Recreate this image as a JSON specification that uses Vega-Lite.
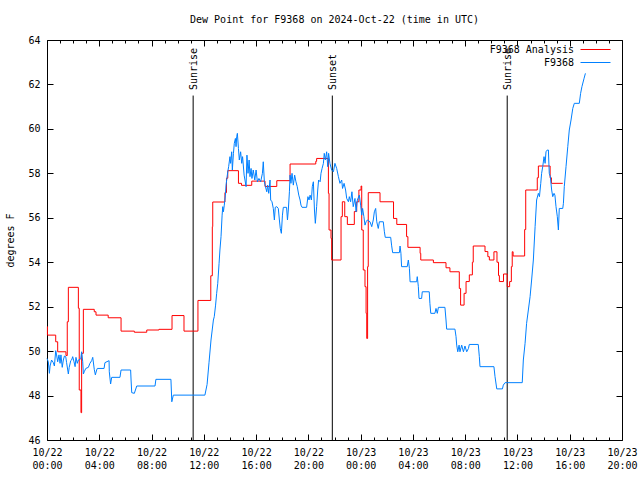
{
"$schema": "https://vega.github.io/schema/vega-lite/v6.json",
"width": 575, "height": 400, "autosize": "none",
"padding": {"left": 47, "top": 40, "right": 18, "bottom": 40},
"background": "white",
"config": {
  "font": "DejaVu Sans Mono",
  "view": {"stroke": "black", "strokeWidth": 1},
  "axis": {"grid": false, "domain": false, "labelFont": "DejaVu Sans Mono", "labelFontSize": 10, "labelColor": "black", "tickColor": "black", "tickWidth": 1, "titleFont": "DejaVu Sans Mono", "titleFontSize": 10, "titleFontWeight": "normal", "titleColor": "black"},
  "legend": {"title": null, "orient": "none", "symbolType": "M-3,0H3", "symbolSize": 100, "symbolStrokeWidth": 1, "labelAlign": "right", "labelOffset": -27, "labelFontSize": 10, "labelFont": "DejaVu Sans Mono", "labelColor": "black", "rowPadding": 3, "padding": 0}
},
"title": {"text": "Dew Point for F9368 on 2024-Oct-22 (time in UTC)", "font": "DejaVu Sans Mono", "fontSize": 10, "fontWeight": "normal", "color": "black", "anchor": "middle", "offset": 10},
"datasets": {
  "analysis": [
    {"t": "2024-10-22T00:00Z", "v": 51.1}, {"t": "2024-10-22T00:02Z", "v": 50.72}, {"t": "2024-10-22T00:40Z", "v": 50.42}, {"t": "2024-10-22T00:49Z", "v": 49.97},
    {"t": "2024-10-22T01:27Z", "v": 49.8}, {"t": "2024-10-22T01:33Z", "v": 51.32}, {"t": "2024-10-22T01:38Z", "v": 52.87}, {"t": "2024-10-22T02:24Z", "v": 51.93},
    {"t": "2024-10-22T02:28Z", "v": 48.25}, {"t": "2024-10-22T02:36Z", "v": 47.23}, {"t": "2024-10-22T02:39Z", "v": 49.9}, {"t": "2024-10-22T02:47Z", "v": 51.88},
    {"t": "2024-10-22T03:37Z", "v": 51.77}, {"t": "2024-10-22T03:45Z", "v": 51.62}, {"t": "2024-10-22T04:41Z", "v": 51.5}, {"t": "2024-10-22T05:40Z", "v": 50.9},
    {"t": "2024-10-22T06:41Z", "v": 50.85}, {"t": "2024-10-22T07:38Z", "v": 50.95}, {"t": "2024-10-22T08:34Z", "v": 50.98}, {"t": "2024-10-22T09:34Z", "v": 51.6},
    {"t": "2024-10-22T10:29Z", "v": 50.9}, {"t": "2024-10-22T11:33Z", "v": 52.28}, {"t": "2024-10-22T12:32Z", "v": 53.39}, {"t": "2024-10-22T12:39Z", "v": 55.6},
    {"t": "2024-10-22T12:41Z", "v": 56.71}, {"t": "2024-10-22T13:37Z", "v": 57.13}, {"t": "2024-10-22T13:44Z", "v": 57.78}, {"t": "2024-10-22T13:50Z", "v": 58.12},
    {"t": "2024-10-22T14:39Z", "v": 57.55}, {"t": "2024-10-22T14:53Z", "v": 57.46}, {"t": "2024-10-22T15:40Z", "v": 57.65}, {"t": "2024-10-22T16:41Z", "v": 57.41},
    {"t": "2024-10-22T17:35Z", "v": 57.67}, {"t": "2024-10-22T18:36Z", "v": 58.42}, {"t": "2024-10-22T20:34Z", "v": 58.54}, {"t": "2024-10-22T20:38Z", "v": 58.67},
    {"t": "2024-10-22T21:32Z", "v": 57.1}, {"t": "2024-10-22T21:35Z", "v": 55.45}, {"t": "2024-10-22T21:44Z", "v": 55.07}, {"t": "2024-10-22T21:47Z", "v": 54.1},
    {"t": "2024-10-22T22:30Z", "v": 56.05}, {"t": "2024-10-22T22:36Z", "v": 56.72}, {"t": "2024-10-22T22:47Z", "v": 56.05}, {"t": "2024-10-22T22:59Z", "v": 55.7},
    {"t": "2024-10-22T23:31Z", "v": 56.28}, {"t": "2024-10-22T23:42Z", "v": 56.72}, {"t": "2024-10-22T23:52Z", "v": 57.25}, {"t": "2024-10-23T00:02Z", "v": 57.43},
    {"t": "2024-10-23T00:05Z", "v": 55.45}, {"t": "2024-10-23T00:12Z", "v": 53.65}, {"t": "2024-10-23T00:20Z", "v": 52.9}, {"t": "2024-10-23T00:25Z", "v": 51.7},
    {"t": "2024-10-23T00:28Z", "v": 50.57}, {"t": "2024-10-23T00:32Z", "v": 53.8}, {"t": "2024-10-23T00:35Z", "v": 57.13}, {"t": "2024-10-23T01:29Z", "v": 56.72},
    {"t": "2024-10-23T02:31Z", "v": 55.97}, {"t": "2024-10-23T02:46Z", "v": 55.7}, {"t": "2024-10-23T03:31Z", "v": 55.15}, {"t": "2024-10-23T03:37Z", "v": 54.67},
    {"t": "2024-10-23T04:33Z", "v": 54.4}, {"t": "2024-10-23T04:36Z", "v": 54.1}, {"t": "2024-10-23T05:34Z", "v": 53.98}, {"t": "2024-10-23T06:32Z", "v": 53.75},
    {"t": "2024-10-23T06:50Z", "v": 53.57}, {"t": "2024-10-23T07:33Z", "v": 52.82}, {"t": "2024-10-23T07:39Z", "v": 52.07}, {"t": "2024-10-23T07:55Z", "v": 52.6},
    {"t": "2024-10-23T08:04Z", "v": 53.13}, {"t": "2024-10-23T08:19Z", "v": 53.43}, {"t": "2024-10-23T08:33Z", "v": 54.0}, {"t": "2024-10-23T08:37Z", "v": 54.73},
    {"t": "2024-10-23T09:31Z", "v": 54.48}, {"t": "2024-10-23T09:44Z", "v": 54.25}, {"t": "2024-10-23T09:51Z", "v": 54.1}, {"t": "2024-10-23T10:12Z", "v": 54.47},
    {"t": "2024-10-23T10:26Z", "v": 54.0}, {"t": "2024-10-23T10:33Z", "v": 53.4}, {"t": "2024-10-23T10:37Z", "v": 53.13}, {"t": "2024-10-23T10:56Z", "v": 53.47},
    {"t": "2024-10-23T11:13Z", "v": 52.9}, {"t": "2024-10-23T11:24Z", "v": 53.13}, {"t": "2024-10-23T11:32Z", "v": 53.8}, {"t": "2024-10-23T11:36Z", "v": 54.47},
    {"t": "2024-10-23T11:40Z", "v": 54.28}, {"t": "2024-10-23T12:33Z", "v": 55.47}, {"t": "2024-10-23T12:38Z", "v": 57.25}, {"t": "2024-10-23T13:31Z", "v": 57.8},
    {"t": "2024-10-23T13:36Z", "v": 58.33}, {"t": "2024-10-23T14:30Z", "v": 57.8}, {"t": "2024-10-23T14:36Z", "v": 57.55}, {"t": "2024-10-23T15:28Z", "v": 57.55}
  ],
  "obs": [
    {"t": "2024-10-22T00:00Z", "v": 49.67}, {"t": "2024-10-22T00:06Z", "v": 49.52}, {"t": "2024-10-22T00:11Z", "v": 49.0}, {"t": "2024-10-22T00:14Z", "v": 49.33},
    {"t": "2024-10-22T00:21Z", "v": 49.6}, {"t": "2024-10-22T00:29Z", "v": 49.48}, {"t": "2024-10-22T00:34Z", "v": 49.33}, {"t": "2024-10-22T00:40Z", "v": 50.02},
    {"t": "2024-10-22T00:44Z", "v": 49.83}, {"t": "2024-10-22T00:49Z", "v": 49.52}, {"t": "2024-10-22T00:55Z", "v": 49.83}, {"t": "2024-10-22T01:00Z", "v": 49.45},
    {"t": "2024-10-22T01:04Z", "v": 49.83}, {"t": "2024-10-22T01:10Z", "v": 49.27}, {"t": "2024-10-22T01:15Z", "v": 49.6}, {"t": "2024-10-22T01:20Z", "v": 49.78},
    {"t": "2024-10-22T01:26Z", "v": 49.75}, {"t": "2024-10-22T01:30Z", "v": 49.48}, {"t": "2024-10-22T01:38Z", "v": 48.97}, {"t": "2024-10-22T01:42Z", "v": 49.27},
    {"t": "2024-10-22T01:49Z", "v": 49.57}, {"t": "2024-10-22T01:53Z", "v": 49.6}, {"t": "2024-10-22T01:58Z", "v": 49.75}, {"t": "2024-10-22T02:04Z", "v": 49.52},
    {"t": "2024-10-22T02:09Z", "v": 49.3}, {"t": "2024-10-22T02:13Z", "v": 49.72}, {"t": "2024-10-22T02:19Z", "v": 49.45}, {"t": "2024-10-22T02:24Z", "v": 49.6},
    {"t": "2024-10-22T02:35Z", "v": 49.65}, {"t": "2024-10-22T02:39Z", "v": 49.97}, {"t": "2024-10-22T02:44Z", "v": 49.52}, {"t": "2024-10-22T02:47Z", "v": 48.97},
    {"t": "2024-10-22T02:51Z", "v": 49.07}, {"t": "2024-10-22T02:58Z", "v": 49.22}, {"t": "2024-10-22T03:10Z", "v": 49.27}, {"t": "2024-10-22T03:17Z", "v": 49.45},
    {"t": "2024-10-22T03:25Z", "v": 49.57}, {"t": "2024-10-22T03:30Z", "v": 49.72}, {"t": "2024-10-22T03:37Z", "v": 49.18}, {"t": "2024-10-22T03:42Z", "v": 48.93},
    {"t": "2024-10-22T03:48Z", "v": 49.15}, {"t": "2024-10-22T03:51Z", "v": 49.22}, {"t": "2024-10-22T04:22Z", "v": 49.22}, {"t": "2024-10-22T04:26Z", "v": 49.48},
    {"t": "2024-10-22T04:45Z", "v": 49.57}, {"t": "2024-10-22T04:46Z", "v": 49.07}, {"t": "2024-10-22T04:52Z", "v": 48.52}, {"t": "2024-10-22T04:57Z", "v": 48.82},
    {"t": "2024-10-22T05:35Z", "v": 48.82}, {"t": "2024-10-22T05:40Z", "v": 49.15}, {"t": "2024-10-22T06:24Z", "v": 49.15}, {"t": "2024-10-22T06:26Z", "v": 48.7},
    {"t": "2024-10-22T06:29Z", "v": 48.13}, {"t": "2024-10-22T06:41Z", "v": 48.1}, {"t": "2024-10-22T06:52Z", "v": 48.43}, {"t": "2024-10-22T08:16Z", "v": 48.43},
    {"t": "2024-10-22T08:20Z", "v": 48.73}, {"t": "2024-10-22T09:29Z", "v": 48.73}, {"t": "2024-10-22T09:33Z", "v": 47.72}, {"t": "2024-10-22T09:40Z", "v": 48.02},
    {"t": "2024-10-22T12:05Z", "v": 48.02}, {"t": "2024-10-22T12:15Z", "v": 48.5}, {"t": "2024-10-22T12:24Z", "v": 49.5}, {"t": "2024-10-22T12:33Z", "v": 50.5},
    {"t": "2024-10-22T12:44Z", "v": 51.4}, {"t": "2024-10-22T12:48Z", "v": 51.55}, {"t": "2024-10-22T12:54Z", "v": 52.07}, {"t": "2024-10-22T12:59Z", "v": 52.6},
    {"t": "2024-10-22T13:04Z", "v": 53.05}, {"t": "2024-10-22T13:10Z", "v": 53.95}, {"t": "2024-10-22T13:14Z", "v": 54.55}, {"t": "2024-10-22T13:19Z", "v": 55.15},
    {"t": "2024-10-22T13:24Z", "v": 56.12}, {"t": "2024-10-22T13:27Z", "v": 56.5}, {"t": "2024-10-22T13:30Z", "v": 56.27}, {"t": "2024-10-22T13:34Z", "v": 56.57},
    {"t": "2024-10-22T13:39Z", "v": 57.02}, {"t": "2024-10-22T13:42Z", "v": 57.47}, {"t": "2024-10-22T13:46Z", "v": 57.77}, {"t": "2024-10-22T13:50Z", "v": 58.07},
    {"t": "2024-10-22T13:54Z", "v": 58.3}, {"t": "2024-10-22T14:00Z", "v": 58.75}, {"t": "2024-10-22T14:03Z", "v": 58.45}, {"t": "2024-10-22T14:08Z", "v": 58.97},
    {"t": "2024-10-22T14:11Z", "v": 58.15}, {"t": "2024-10-22T14:16Z", "v": 58.9}, {"t": "2024-10-22T14:20Z", "v": 59.35}, {"t": "2024-10-22T14:25Z", "v": 59.57},
    {"t": "2024-10-22T14:28Z", "v": 59.2}, {"t": "2024-10-22T14:31Z", "v": 59.65}, {"t": "2024-10-22T14:34Z", "v": 59.8}, {"t": "2024-10-22T14:39Z", "v": 59.12},
    {"t": "2024-10-22T14:43Z", "v": 58.6}, {"t": "2024-10-22T14:49Z", "v": 58.97}, {"t": "2024-10-22T14:54Z", "v": 58.45}, {"t": "2024-10-22T14:58Z", "v": 58.75},
    {"t": "2024-10-22T15:05Z", "v": 57.92}, {"t": "2024-10-22T15:09Z", "v": 57.7}, {"t": "2024-10-22T15:14Z", "v": 57.4}, {"t": "2024-10-22T15:18Z", "v": 58.82},
    {"t": "2024-10-22T15:23Z", "v": 58.0}, {"t": "2024-10-22T15:28Z", "v": 58.6}, {"t": "2024-10-22T15:32Z", "v": 57.85}, {"t": "2024-10-22T15:37Z", "v": 58.22},
    {"t": "2024-10-22T15:41Z", "v": 57.77}, {"t": "2024-10-22T15:47Z", "v": 58.15}, {"t": "2024-10-22T15:54Z", "v": 57.7}, {"t": "2024-10-22T16:00Z", "v": 58.15},
    {"t": "2024-10-22T16:06Z", "v": 57.62}, {"t": "2024-10-22T16:13Z", "v": 57.77}, {"t": "2024-10-22T16:21Z", "v": 57.62}, {"t": "2024-10-22T16:29Z", "v": 58.0},
    {"t": "2024-10-22T16:33Z", "v": 58.52}, {"t": "2024-10-22T16:38Z", "v": 57.62}, {"t": "2024-10-22T16:43Z", "v": 57.4}, {"t": "2024-10-22T16:49Z", "v": 57.17},
    {"t": "2024-10-22T16:53Z", "v": 57.47}, {"t": "2024-10-22T16:58Z", "v": 57.1}, {"t": "2024-10-22T17:04Z", "v": 57.7}, {"t": "2024-10-22T17:07Z", "v": 56.8},
    {"t": "2024-10-22T17:13Z", "v": 56.72}, {"t": "2024-10-22T17:19Z", "v": 56.42}, {"t": "2024-10-22T17:24Z", "v": 55.9}, {"t": "2024-10-22T17:28Z", "v": 56.47},
    {"t": "2024-10-22T17:35Z", "v": 56.5}, {"t": "2024-10-22T17:42Z", "v": 56.42}, {"t": "2024-10-22T17:47Z", "v": 55.9}, {"t": "2024-10-22T17:51Z", "v": 55.52},
    {"t": "2024-10-22T17:56Z", "v": 55.3}, {"t": "2024-10-22T18:01Z", "v": 56.12}, {"t": "2024-10-22T18:05Z", "v": 56.47}, {"t": "2024-10-22T18:20Z", "v": 56.47},
    {"t": "2024-10-22T18:24Z", "v": 55.9}, {"t": "2024-10-22T18:28Z", "v": 56.35}, {"t": "2024-10-22T18:33Z", "v": 57.17}, {"t": "2024-10-22T18:36Z", "v": 57.92},
    {"t": "2024-10-22T18:40Z", "v": 57.55}, {"t": "2024-10-22T18:45Z", "v": 58.0}, {"t": "2024-10-22T18:51Z", "v": 57.47}, {"t": "2024-10-22T18:57Z", "v": 57.92},
    {"t": "2024-10-22T19:03Z", "v": 57.62}, {"t": "2024-10-22T19:09Z", "v": 57.4}, {"t": "2024-10-22T19:16Z", "v": 57.02}, {"t": "2024-10-22T19:22Z", "v": 56.8},
    {"t": "2024-10-22T19:26Z", "v": 56.57}, {"t": "2024-10-22T19:31Z", "v": 56.47}, {"t": "2024-10-22T19:52Z", "v": 56.47}, {"t": "2024-10-22T19:58Z", "v": 56.95},
    {"t": "2024-10-22T20:03Z", "v": 56.8}, {"t": "2024-10-22T20:08Z", "v": 57.02}, {"t": "2024-10-22T20:14Z", "v": 56.8}, {"t": "2024-10-22T20:18Z", "v": 57.4},
    {"t": "2024-10-22T20:23Z", "v": 57.62}, {"t": "2024-10-22T20:28Z", "v": 56.35}, {"t": "2024-10-22T20:32Z", "v": 55.75}, {"t": "2024-10-22T20:38Z", "v": 56.5},
    {"t": "2024-10-22T20:43Z", "v": 57.25}, {"t": "2024-10-22T20:47Z", "v": 57.7}, {"t": "2024-10-22T20:54Z", "v": 57.62}, {"t": "2024-10-22T20:58Z", "v": 58.0},
    {"t": "2024-10-22T21:03Z", "v": 58.22}, {"t": "2024-10-22T21:09Z", "v": 58.45}, {"t": "2024-10-22T21:13Z", "v": 58.9}, {"t": "2024-10-22T21:18Z", "v": 58.6},
    {"t": "2024-10-22T21:24Z", "v": 58.97}, {"t": "2024-10-22T21:29Z", "v": 58.3}, {"t": "2024-10-22T21:33Z", "v": 58.9}, {"t": "2024-10-22T21:39Z", "v": 58.45},
    {"t": "2024-10-22T21:47Z", "v": 58.15}, {"t": "2024-10-22T21:55Z", "v": 58.07}, {"t": "2024-10-22T22:02Z", "v": 58.45}, {"t": "2024-10-22T22:10Z", "v": 58.22},
    {"t": "2024-10-22T22:18Z", "v": 57.85}, {"t": "2024-10-22T22:25Z", "v": 57.55}, {"t": "2024-10-22T22:33Z", "v": 57.7}, {"t": "2024-10-22T22:37Z", "v": 57.32},
    {"t": "2024-10-22T22:44Z", "v": 57.55}, {"t": "2024-10-22T22:51Z", "v": 57.25}, {"t": "2024-10-22T22:56Z", "v": 56.87}, {"t": "2024-10-22T23:04Z", "v": 56.72},
    {"t": "2024-10-22T23:08Z", "v": 56.95}, {"t": "2024-10-22T23:14Z", "v": 56.72}, {"t": "2024-10-22T23:20Z", "v": 57.17}, {"t": "2024-10-22T23:26Z", "v": 56.5},
    {"t": "2024-10-22T23:34Z", "v": 56.87}, {"t": "2024-10-22T23:39Z", "v": 56.27}, {"t": "2024-10-22T23:45Z", "v": 56.8}, {"t": "2024-10-22T23:54Z", "v": 57.02},
    {"t": "2024-10-23T00:00Z", "v": 56.57}, {"t": "2024-10-23T00:05Z", "v": 56.12}, {"t": "2024-10-23T00:09Z", "v": 56.42}, {"t": "2024-10-23T00:15Z", "v": 56.05},
    {"t": "2024-10-23T00:20Z", "v": 55.67}, {"t": "2024-10-23T00:25Z", "v": 55.82}, {"t": "2024-10-23T00:31Z", "v": 55.9}, {"t": "2024-10-23T00:43Z", "v": 55.82},
    {"t": "2024-10-23T00:51Z", "v": 55.6}, {"t": "2024-10-23T00:58Z", "v": 55.9}, {"t": "2024-10-23T01:03Z", "v": 56.27}, {"t": "2024-10-23T01:09Z", "v": 56.42},
    {"t": "2024-10-23T01:14Z", "v": 55.82}, {"t": "2024-10-23T01:21Z", "v": 55.52}, {"t": "2024-10-23T01:26Z", "v": 55.82}, {"t": "2024-10-23T01:44Z", "v": 55.82},
    {"t": "2024-10-23T01:49Z", "v": 55.37}, {"t": "2024-10-23T01:53Z", "v": 55.12}, {"t": "2024-10-23T02:18Z", "v": 55.12}, {"t": "2024-10-23T02:22Z", "v": 54.77},
    {"t": "2024-10-23T02:27Z", "v": 54.43}, {"t": "2024-10-23T02:58Z", "v": 54.43}, {"t": "2024-10-23T03:01Z", "v": 54.73}, {"t": "2024-10-23T03:05Z", "v": 54.4},
    {"t": "2024-10-23T03:08Z", "v": 53.8}, {"t": "2024-10-23T03:34Z", "v": 53.8}, {"t": "2024-10-23T03:39Z", "v": 54.1}, {"t": "2024-10-23T03:44Z", "v": 53.72},
    {"t": "2024-10-23T03:47Z", "v": 53.12}, {"t": "2024-10-23T04:17Z", "v": 53.12}, {"t": "2024-10-23T04:20Z", "v": 53.35}, {"t": "2024-10-23T04:25Z", "v": 52.9},
    {"t": "2024-10-23T04:28Z", "v": 52.37}, {"t": "2024-10-23T04:40Z", "v": 52.37}, {"t": "2024-10-23T04:43Z", "v": 52.67}, {"t": "2024-10-23T05:15Z", "v": 52.67},
    {"t": "2024-10-23T05:18Z", "v": 52.15}, {"t": "2024-10-23T05:22Z", "v": 51.7}, {"t": "2024-10-23T05:41Z", "v": 51.7}, {"t": "2024-10-23T05:46Z", "v": 51.92},
    {"t": "2024-10-23T05:52Z", "v": 51.7}, {"t": "2024-10-23T05:57Z", "v": 51.97}, {"t": "2024-10-23T06:27Z", "v": 51.97}, {"t": "2024-10-23T06:32Z", "v": 51.4},
    {"t": "2024-10-23T06:35Z", "v": 50.99}, {"t": "2024-10-23T07:13Z", "v": 50.99}, {"t": "2024-10-23T07:18Z", "v": 50.65}, {"t": "2024-10-23T07:21Z", "v": 50.27},
    {"t": "2024-10-23T07:26Z", "v": 49.97}, {"t": "2024-10-23T07:32Z", "v": 50.27}, {"t": "2024-10-23T07:36Z", "v": 49.97}, {"t": "2024-10-23T07:44Z", "v": 50.27},
    {"t": "2024-10-23T07:52Z", "v": 49.97}, {"t": "2024-10-23T07:59Z", "v": 50.23}, {"t": "2024-10-23T08:07Z", "v": 49.97}, {"t": "2024-10-23T08:15Z", "v": 50.12},
    {"t": "2024-10-23T08:19Z", "v": 50.3}, {"t": "2024-10-23T09:00Z", "v": 50.3}, {"t": "2024-10-23T09:05Z", "v": 49.75}, {"t": "2024-10-23T09:08Z", "v": 49.3},
    {"t": "2024-10-23T10:12Z", "v": 49.3}, {"t": "2024-10-23T10:17Z", "v": 48.85}, {"t": "2024-10-23T10:25Z", "v": 48.3}, {"t": "2024-10-23T10:51Z", "v": 48.3},
    {"t": "2024-10-23T10:55Z", "v": 48.47}, {"t": "2024-10-23T11:03Z", "v": 48.58}, {"t": "2024-10-23T12:22Z", "v": 48.58}, {"t": "2024-10-23T12:27Z", "v": 49.6},
    {"t": "2024-10-23T12:35Z", "v": 50.35}, {"t": "2024-10-23T12:42Z", "v": 51.25}, {"t": "2024-10-23T12:50Z", "v": 51.85}, {"t": "2024-10-23T12:58Z", "v": 52.45},
    {"t": "2024-10-23T13:05Z", "v": 53.2}, {"t": "2024-10-23T13:13Z", "v": 54.1}, {"t": "2024-10-23T13:21Z", "v": 55.6}, {"t": "2024-10-23T13:28Z", "v": 56.8},
    {"t": "2024-10-23T13:36Z", "v": 57.1}, {"t": "2024-10-23T13:41Z", "v": 56.95}, {"t": "2024-10-23T13:47Z", "v": 57.55}, {"t": "2024-10-23T13:51Z", "v": 58.0},
    {"t": "2024-10-23T13:56Z", "v": 58.3}, {"t": "2024-10-23T14:02Z", "v": 58.75}, {"t": "2024-10-23T14:07Z", "v": 58.45}, {"t": "2024-10-23T14:11Z", "v": 58.97},
    {"t": "2024-10-23T14:17Z", "v": 59.05}, {"t": "2024-10-23T14:22Z", "v": 59.05}, {"t": "2024-10-23T14:26Z", "v": 58.0}, {"t": "2024-10-23T14:31Z", "v": 57.85},
    {"t": "2024-10-23T14:37Z", "v": 57.25}, {"t": "2024-10-23T14:42Z", "v": 56.95}, {"t": "2024-10-23T14:48Z", "v": 57.1}, {"t": "2024-10-23T14:52Z", "v": 57.02},
    {"t": "2024-10-23T14:57Z", "v": 56.5}, {"t": "2024-10-23T15:03Z", "v": 56.05}, {"t": "2024-10-23T15:08Z", "v": 55.45}, {"t": "2024-10-23T15:12Z", "v": 56.42},
    {"t": "2024-10-23T15:28Z", "v": 56.42}, {"t": "2024-10-23T15:31Z", "v": 56.65}, {"t": "2024-10-23T15:35Z", "v": 57.4}, {"t": "2024-10-23T15:43Z", "v": 58.3},
    {"t": "2024-10-23T15:51Z", "v": 59.2}, {"t": "2024-10-23T15:58Z", "v": 59.95}, {"t": "2024-10-23T16:06Z", "v": 60.4}, {"t": "2024-10-23T16:14Z", "v": 60.92},
    {"t": "2024-10-23T16:21Z", "v": 61.15}, {"t": "2024-10-23T16:44Z", "v": 61.15}, {"t": "2024-10-23T16:50Z", "v": 61.6}, {"t": "2024-10-23T16:56Z", "v": 61.9},
    {"t": "2024-10-23T17:06Z", "v": 62.28}, {"t": "2024-10-23T17:12Z", "v": 62.5}
  ],
  "events": [
    {"t": "2024-10-22T11:11Z", "label": "Sunrise"},
    {"t": "2024-10-22T21:50Z", "label": "Sunset"},
    {"t": "2024-10-23T11:13Z", "label": "Sunrise"}
  ]
},
"layer": [
  {
    "data": {"name": "events"},
    "mark": {"type": "rule", "color": "black", "strokeWidth": 1},
    "encoding": {
      "x": {"field": "t", "type": "temporal", "scale": {"type": "utc", "domain": [1729555200000, 1729713600000]}, "axis": null},
      "y": {"datum": 61.5, "type": "quantitative", "scale": {"domain": [46, 64], "nice": false, "zero": false}, "axis": null},
      "y2": {"datum": 46}
    }
  },
  {
    "data": {"name": "events"},
    "mark": {"type": "text", "angle": 270, "align": "left", "baseline": "middle", "fontSize": 10, "font": "DejaVu Sans Mono", "color": "black", "dy": 1},
    "encoding": {
      "x": {"field": "t", "type": "temporal", "axis": null},
      "y": {"datum": 61.75, "type": "quantitative", "axis": null},
      "text": {"field": "label"}
    }
  },
  {
    "data": {"name": "analysis"},
    "mark": {"type": "line", "interpolate": "step-after", "strokeWidth": 1},
    "encoding": {
      "x": {"field": "t", "type": "temporal", "scale": {"type": "utc", "domain": [1729555200000, 1729713600000]},
        "axis": {"orient": "bottom", "title": null, "values": [1729555200000,1729558800000,1729562400000,1729566000000,1729569600000,1729573200000,1729576800000,1729580400000,1729584000000,1729587600000,1729591200000,1729594800000,1729598400000,1729602000000,1729605600000,1729609200000,1729612800000,1729616400000,1729620000000,1729623600000,1729627200000,1729630800000,1729634400000,1729638000000,1729641600000,1729645200000,1729648800000,1729652400000,1729656000000,1729659600000,1729663200000,1729666800000,1729670400000,1729674000000,1729677600000,1729681200000,1729684800000,1729688400000,1729692000000,1729695600000,1729699200000,1729702800000,1729706400000,1729710000000,1729713600000],
          "tickSize": {"condition": {"test": "utchours(datum.value) % 4 === 0", "value": -6}, "value": -3},
          "labelExpr": "utchours(datum.value) % 4 === 0 ? [utcFormat(datum.value, '%m/%d'), utcFormat(datum.value, '%H:%M')] : ''",
          "labelPadding": 13, "labelOverlap": false, "labelFlush": false, "labelLineHeight": 13, "labelBaseline": "top"}},
      "y": {"field": "v", "type": "quantitative", "scale": {"domain": [46, 64], "nice": false, "zero": false},
        "axis": {"orient": "left", "values": [46,48,50,52,54,56,58,60,62,64], "tickSize": -6, "labelPadding": 13, "title": "degrees F", "titleX": -37, "titleY": 200, "titleAngle": 270, "titleAlign": "center", "titleBaseline": "middle"}},
      "color": {"datum": "F9368 Analysis", "type": "nominal",
        "scale": {"domain": ["F9368 Analysis"], "range": ["#ff0000"]},
        "legend": {"legendX": 543, "legendY": 4, "symbolStrokeColor": "#ff0000"}}
    }
  },
  {
    "data": {"name": "obs"},
    "mark": {"type": "line", "strokeWidth": 1},
    "encoding": {
      "x": {"field": "t", "type": "temporal",
        "axis": {"orient": "top", "title": null, "labels": false, "values": [1729555200000,1729558800000,1729562400000,1729566000000,1729569600000,1729573200000,1729576800000,1729580400000,1729584000000,1729587600000,1729591200000,1729594800000,1729598400000,1729602000000,1729605600000,1729609200000,1729612800000,1729616400000,1729620000000,1729623600000,1729627200000,1729630800000,1729634400000,1729638000000,1729641600000,1729645200000,1729648800000,1729652400000,1729656000000,1729659600000,1729663200000,1729666800000,1729670400000,1729674000000,1729677600000,1729681200000,1729684800000,1729688400000,1729692000000,1729695600000,1729699200000,1729702800000,1729706400000,1729710000000,1729713600000],
          "tickSize": {"condition": {"test": "utchours(datum.value) % 4 === 0", "value": -6}, "value": -3}}},
      "y": {"field": "v", "type": "quantitative",
        "axis": {"orient": "right", "labels": false, "title": null, "values": [46,48,50,52,54,56,58,60,62,64], "tickSize": -6}},
      "color": {"datum": "F9368", "type": "nominal",
        "scale": {"domain": ["F9368"], "range": ["#0080ff"]},
        "legend": {"legendX": 543, "legendY": 17, "symbolStrokeColor": "#0080ff"}}
    }
  }
],
"resolve": {"axis": {"x": "independent", "y": "independent"}, "scale": {"color": "independent"}, "legend": {"color": "independent"}}
}
